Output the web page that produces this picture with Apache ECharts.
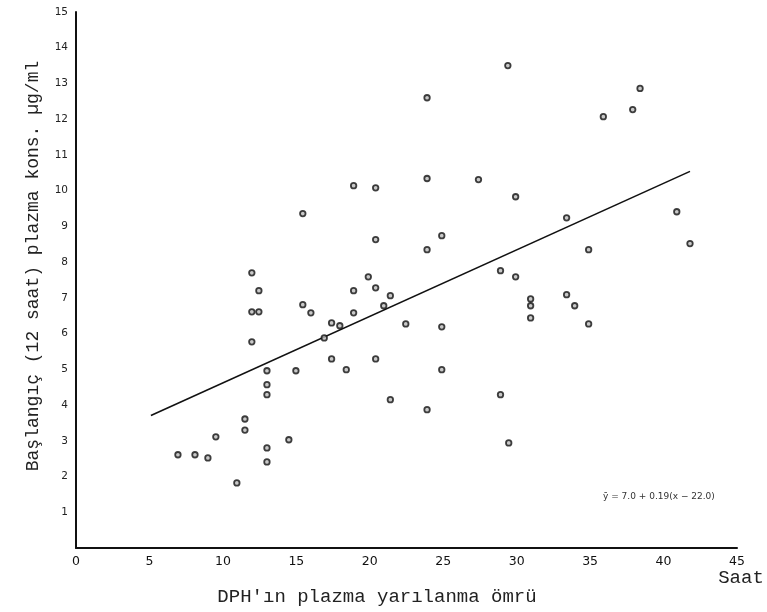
<!DOCTYPE html>
<html>
<head>
<meta charset="utf-8">
<script src="https://cdn.jsdelivr.net/npm/echarts@6/dist/echarts.min.js"></script>
<style>
html,body{margin:0;padding:0;background:#fff;}
#chart{width:767px;height:612px;}
</style>
</head>
<body>
<div id="chart"></div>
<script>
// Half-life (hours) vs initial plasma concentration (µg/ml)
const halfLife = [
  6.94, 8.1, 8.98, 9.52, 10.95, 11.5, 11.5, 11.97, 11.97, 11.97,
  12.45, 12.45, 13.0, 13.0, 13.0, 13.0, 13.0, 14.49, 14.97, 15.44,
  15.44, 15.99, 16.9, 17.4, 17.4, 17.96, 18.4, 18.9, 18.9, 18.9,
  19.9, 20.4, 20.4, 20.4, 20.4, 20.95, 21.4, 21.4, 22.45, 23.9,
  23.9, 23.9, 23.9, 24.9, 24.9, 24.9, 27.4, 28.9, 28.9, 29.4,
  29.46, 29.93, 29.93, 30.95, 30.95, 30.95, 33.4, 33.4, 33.95, 34.9,
  34.9, 35.9, 37.9, 38.4, 40.9, 41.8
];
const concentration = [
  2.61, 2.61, 2.52, 3.11, 1.82, 3.61, 3.3, 7.7, 6.61, 5.77,
  7.2, 6.61, 4.96, 4.57, 4.29, 2.8, 2.41, 3.03, 4.96, 9.36,
  6.81, 6.58, 5.88, 6.3, 5.29, 6.22, 4.99, 10.14, 7.2, 6.58,
  7.59, 10.08, 8.63, 7.28, 5.29, 6.78, 7.06, 4.15, 6.27, 12.6,
  10.34, 8.35, 3.87, 8.74, 6.19, 4.99, 10.31, 7.76, 4.29, 13.5,
  2.94, 9.83, 7.59, 6.97, 6.78, 6.44, 9.24, 7.09, 6.78, 8.35,
  6.27, 12.07, 12.27, 12.86, 9.41, 8.52
];
// regression line endpoints
const regX = [5.1, 41.8];
const regY = [3.71, 10.54];

const xTicks = {min: 0, max: 45, interval: 5};
const yTicks = {min: 0, max: 15, interval: 1};

const points = halfLife.map((x, i) => [x, concentration[i]]);
const regLine = regX.map((x, i) => [x, regY[i]]);

const chart = echarts.init(document.getElementById('chart'));
const labelFont = 'DejaVu Sans';
const monoFont = '"Liberation Mono", "DejaVu Sans Mono", monospace';

chart.setOption({
  animation: false,
  backgroundColor: '#fff',
  grid: {left: 76, right: 30, top: 12, bottom: 64, containLabel: false},
  xAxis: {
    type: 'value',
    min: xTicks.min, max: xTicks.max, interval: xTicks.interval,
    axisLine: {show: true, onZero: false, lineStyle: {color: '#111', width: 2}},
    axisTick: {show: false},
    splitLine: {show: false},
    axisLabel: {color: '#111', fontSize: 12.5, fontFamily: labelFont, margin: 7}
  },
  yAxis: {
    type: 'value',
    min: yTicks.min, max: yTicks.max, interval: yTicks.interval,
    axisLine: {show: true, onZero: false, lineStyle: {color: '#111', width: 2}},
    axisTick: {show: false},
    splitLine: {show: false},
    axisLabel: {
      color: '#222', fontSize: 10.5, fontFamily: labelFont, margin: 8,
      formatter: v => (v === 0 ? '' : String(v))
    }
  },
  series: [
    {
      type: 'line',
      data: regLine,
      showSymbol: false,
      lineStyle: {color: '#111', width: 1.6},
      z: 1
    },
    {
      type: 'scatter',
      data: points,
      symbol: 'circle',
      symbolSize: 5.5,
      itemStyle: {color: '#bbb', borderColor: '#111', borderWidth: 1.8},
      z: 2
    }
  ],
  graphic: [
    {
      type: 'text', x: 33, y: 266, rotation: Math.PI / 2,
      style: {
        text: 'Başlangıç (12 saat) plazma kons. µg/ml',
        font: '18px ' + monoFont, fill: '#222',
        textAlign: 'center', textVerticalAlign: 'middle'
      }
    },
    {
      type: 'text', x: 377, y: 597,
      style: {
        text: "DPH'ın plazma yarılanma ömrü",
        font: '19px ' + monoFont, fill: '#222',
        textAlign: 'center', textVerticalAlign: 'middle'
      }
    },
    {
      type: 'text', x: 741, y: 578,
      style: {
        text: 'Saat',
        font: '19px ' + monoFont, fill: '#222',
        textAlign: 'center', textVerticalAlign: 'middle'
      }
    },
    {
      type: 'text', x: 603, y: 497,
      style: {
        text: 'ȳ = 7.0 + 0.19(x − 22.0)',
        font: '9px ' + labelFont, fill: '#333',
        textAlign: 'left', textVerticalAlign: 'middle'
      }
    }
  ]
});
</script>
</body>
</html>
